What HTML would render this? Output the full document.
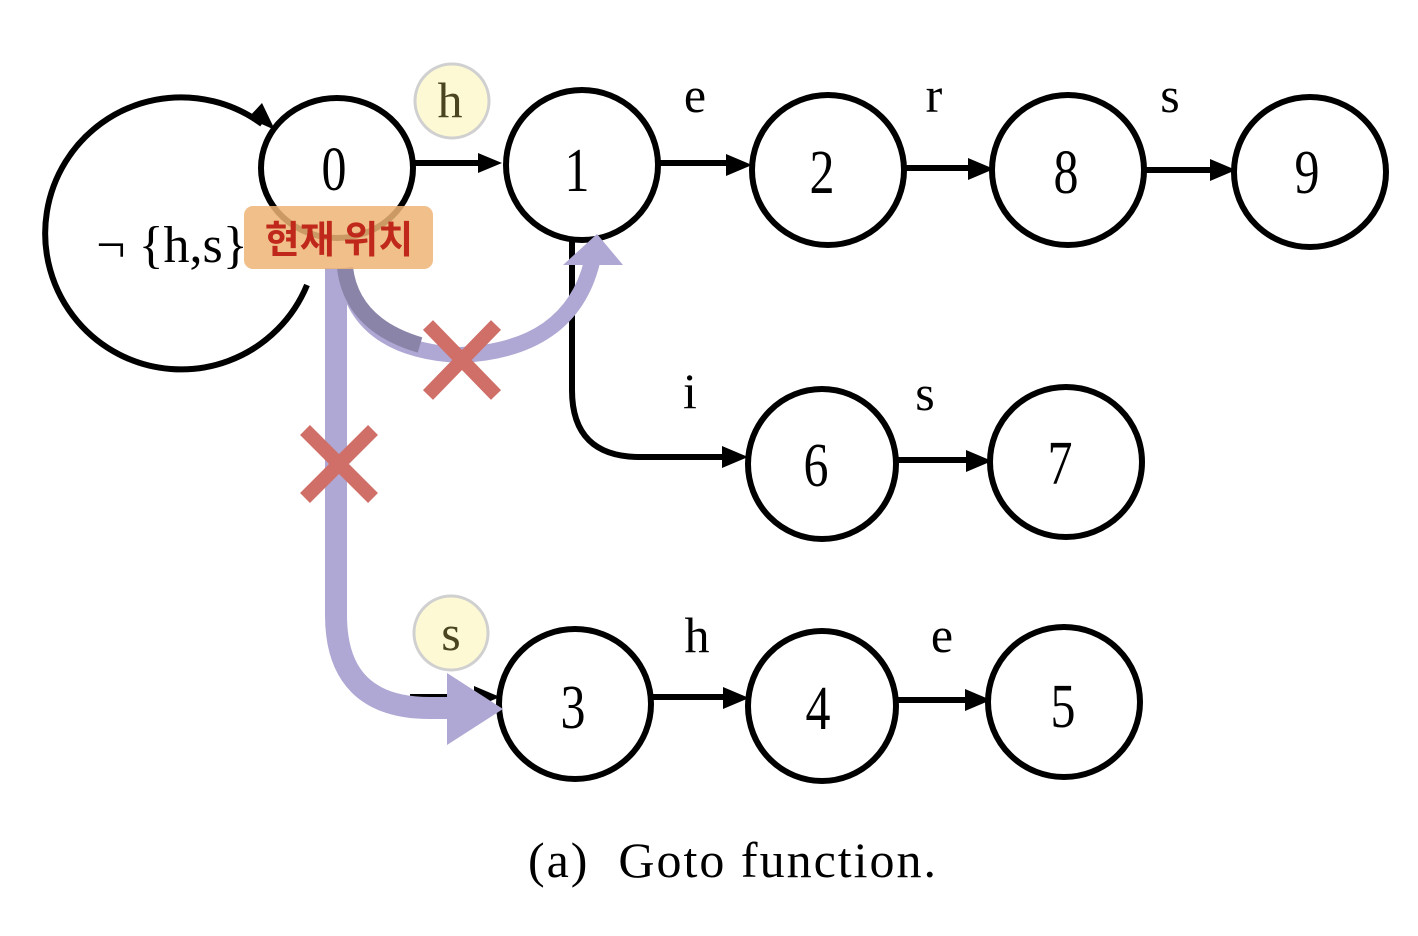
<!DOCTYPE html>
<html><head><meta charset="utf-8"><style>
html,body{margin:0;padding:0;background:#fff;width:1418px;height:936px;overflow:hidden}
svg{display:block}
.n{font-family:"Liberation Serif",serif;font-size:50px;text-anchor:middle}
.l{font-family:"Liberation Serif",serif;font-size:50px;text-anchor:middle}
</style></head><body>
<svg width="1418" height="936" viewBox="0 0 1418 936">
<g fill="none" stroke="#000" stroke-width="6">
<path d="M262 124 A136 136 0 1 0 307 285"/>
<ellipse cx="337" cy="168" rx="76" ry="70"/>
<ellipse cx="582" cy="165" rx="76" ry="75"/>
<ellipse cx="828" cy="170" rx="76" ry="75"/>
<ellipse cx="1068" cy="170" rx="76" ry="75"/>
<ellipse cx="1310" cy="172" rx="76" ry="75"/>
<ellipse cx="822" cy="464" rx="74" ry="75"/>
<ellipse cx="1066" cy="462" rx="76" ry="75"/>
<ellipse cx="575" cy="704" rx="76" ry="75"/>
<ellipse cx="822" cy="706" rx="74" ry="75"/>
<ellipse cx="1064" cy="702" rx="76" ry="75"/>
<path d="M414 163 H490"/>
<path d="M659 163 H735"/>
<path d="M905 168 H975"/>
<path d="M1145 170 H1218"/>
<path d="M572 240 V390 Q572 457 640 457 H735"/>
<path d="M898 460 H975"/>
<path d="M410 697 H485"/>
<path d="M652 697 H735"/>
<path d="M898 700 H975"/>
</g>
<g fill="#000">
<path d="M275 130 L248 118 L262 103 Z"/>
<path d="M502 163 L478 153 L478 173 Z"/>
<path d="M752 165 L726 154 L726 176 Z"/>
<path d="M994 169 L968 158 L968 180 Z"/>
<path d="M1236 170 L1210 159 L1210 181 Z"/>
<path d="M748 457 L722 446 L722 468 Z"/>
<path d="M992 461 L966 450 L966 472 Z"/>
<path d="M500 697 L474 686 L474 708 Z"/>
<path d="M749 698 L723 687 L723 709 Z"/>
<path d="M991 700 L965 689 L965 711 Z"/>
</g>
<g class="n">
<text transform="translate(334 190) scale(1 1.25)">0</text>
<text transform="translate(577 191) scale(1 1.25)">1</text>
<text transform="translate(822 193) scale(1 1.25)">2</text>
<text transform="translate(1066 193) scale(1 1.25)">8</text>
<text transform="translate(1307 193) scale(1 1.25)">9</text>
<text transform="translate(816 486) scale(1 1.25)">6</text>
<text transform="translate(1060 484) scale(1 1.25)">7</text>
<text transform="translate(573 728) scale(1 1.25)">3</text>
<text transform="translate(818 729) scale(1 1.25)">4</text>
<text transform="translate(1063 727) scale(1 1.25)">5</text>
</g>
<g class="l">
<text x="695" y="112">e</text>
<text x="934" y="112">r</text>
<text x="1170" y="112">s</text>
<text x="690" y="408">i</text>
<text x="925" y="410">s</text>
<text x="697" y="652">h</text>
<text x="942" y="652">e</text>
<text x="172" y="262" font-size="52">¬ {h,s}</text>
</g>
<circle cx="452" cy="101" r="37" fill="#fdf9d4" stroke="#d0d0d0" stroke-width="3"/>
<text x="450" y="117" class="l" fill="#4a4520">h</text>
<circle cx="451" cy="633" r="37" fill="#fdf9d4" stroke="#d0d0d0" stroke-width="3"/>
<text x="451" y="650" class="l" fill="#4a4520">s</text>
<path d="M336 268 V615 Q336 708 430 708 H452" fill="none" stroke="#b0a8d4" stroke-width="22"/>
<path d="M447 673 L503 709 L447 745 Z" fill="#b0a8d4"/>
<path d="M345 268 Q355 350 460 355 Q570 350 592 262" fill="none" stroke="#b0a8d4" stroke-width="16"/>
<path d="M345 268 Q352 325 420 345" fill="none" stroke="#8a84a8" stroke-width="16"/>
<path d="M597 234 L563 265 L623 265 Z" fill="#b0a8d4"/>
<rect x="244" y="206" width="189" height="63" rx="9" fill="#eeb474" opacity="0.85"/>
<text x="339" y="253" font-family="'Noto Sans CJK KR','NanumGothic',sans-serif" font-weight="bold" font-size="38" fill="#c0281c" text-anchor="middle">현재 위치</text>
<g stroke="#d06e68" stroke-width="14">
<path d="M428 325 L496 395 M496 325 L428 395"/>
<path d="M305 430 L373 498 M373 430 L305 498"/>
</g>
<text x="733" y="877" font-family="'Liberation Serif',serif" font-size="50" letter-spacing="2" text-anchor="middle" xml:space="preserve">(a)  Goto function.</text>
</svg>
</body></html>
